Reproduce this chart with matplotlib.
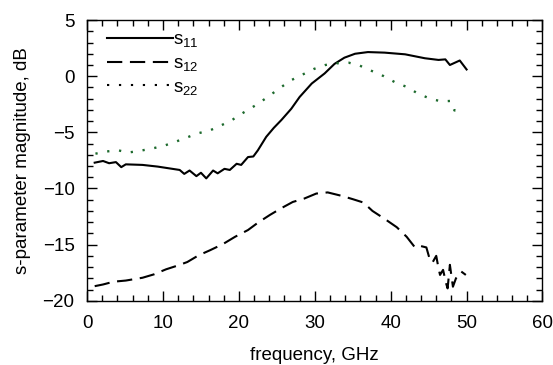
import matplotlib

matplotlib.use("Agg")
import matplotlib.pyplot as plt
from matplotlib.lines import Line2D
from matplotlib.ticker import MultipleLocator

# s11
s11_freq = [1.0, 2.1, 2.9, 3.8, 4.5, 5.1, 7.3, 9.3, 12.2, 12.8, 13.5, 14.4, 15.0,
            15.7, 16.6, 17.2, 18.1, 18.8, 19.7, 20.3, 21.2, 21.9, 22.5, 23.6, 24.6,
            25.6, 26.9, 28.0, 29.6, 31.3, 32.6, 33.9, 35.3, 37.0, 39.2, 41.9, 44.5,
            46.3, 47.2, 47.8, 49.1, 50.0]
s11_db = [-7.7, -7.55, -7.75, -7.65, -8.1, -7.85, -7.9, -8.05, -8.35, -8.7, -8.4,
          -8.9, -8.6, -9.1, -8.4, -8.65, -8.25, -8.35, -7.8, -7.9, -7.2, -7.15, -6.6,
          -5.4, -4.6, -3.9, -2.9, -1.85, -0.65, 0.25, 1.1, 1.65, 2.0, 2.15, 2.1, 1.95,
          1.6, 1.45, 1.5, 1.0, 1.4, 0.6]

# s12
s12_freq = [1.0, 2.1, 3.5, 5.1, 7.3, 8.8, 10.4, 12.0, 13.2, 14.7, 16.2, 17.9, 19.5,
            21.2, 22.5, 24.1, 25.6, 27.1, 28.6, 30.2, 31.7, 33.5, 35.0, 36.4, 37.6,
            39.3, 40.8, 42.1, 43.2, 43.8, 44.7, 45.1, 45.5, 46.0, 46.3, 46.5, 46.9,
            47.3, 47.5, 47.8, 48.2, 48.6, 49.3, 49.9]
s12_db = [-18.7, -18.55, -18.3, -18.2, -17.95, -17.65, -17.2, -16.85, -16.55, -15.95,
          -15.5, -14.95, -14.3, -13.7, -13.05, -12.35, -11.75, -11.2, -10.9, -10.45,
          -10.35, -10.65, -10.95, -11.25, -12.0, -12.75, -13.45, -14.3, -15.25, -15.1,
          -15.25, -16.2, -16.6, -16.0, -17.1, -17.7, -17.25, -18.45, -18.9, -16.8,
          -18.75, -18.0, -17.4, -17.7]

# s22
s22_freq = [1.1, 2.6, 4.1, 5.4, 6.9, 8.5, 10.1, 11.6, 13.0, 14.5, 16.1, 17.6, 19.1,
            20.7, 22.3, 23.8, 25.3, 26.9, 28.4, 29.9, 31.4, 32.9, 34.5, 35.9, 37.4,
            39.1, 40.6, 42.1, 43.6, 45.2, 46.7, 47.9, 48.4, 49.8]
s22_db = [-6.9, -6.7, -6.6, -6.8, -6.65, -6.45, -6.2, -5.85, -5.5, -5.1, -4.85, -4.4,
          -3.9, -3.2, -2.55, -1.85, -1.1, -0.35, 0.15, 0.65, 1.0, 1.15, 1.2, 0.95, 0.5,
          0.0, -0.55, -0.95, -1.55, -2.0, -2.25, -2.2, -3.05, -3.0]

labels = [r"$\mathregular{s_{11}}$", r"$\mathregular{s_{12}}$", r"$\mathregular{s_{22}}$"]

plt.rcParams["font.family"] = ["Liberation Sans", "DejaVu Sans"]
plt.rcParams["lines.scale_dashes"] = False
FS = 13.5

fig = plt.figure(figsize=(5.53, 3.65), dpi=100)
ax = fig.add_axes([0.1575, 0.176, 0.8235, 0.769])

solid_ls = "-"
dash_ls = (0, (11, 5.5))
dot_ls = (0, (1.6, 7.0))

ax.plot(s11_freq, s11_db, color="black", lw=1.5, ls=solid_ls)
ax.plot(s12_freq, s12_db, color="black", lw=1.5, ls=dash_ls)
ax.plot(s22_freq, s22_db, color="#1d6a2d", lw=1.7, ls=dot_ls)

ax.set_xlim(0, 60)
ax.set_ylim(-20, 5)
ax.xaxis.set_major_locator(MultipleLocator(10))
ax.xaxis.set_minor_locator(MultipleLocator(2))
ax.yaxis.set_major_locator(MultipleLocator(5))
ax.yaxis.set_minor_locator(MultipleLocator(1))
ax.tick_params(which="both", direction="in", top=True, right=True,
               labelsize=FS, width=1, colors="black")
ax.tick_params(axis="x", which="both", pad=10)
ax.tick_params(axis="y", which="both", pad=9)
ax.tick_params(which="major", length=7)
ax.tick_params(which="minor", length=4)
for sp in ax.spines.values():
    sp.set_linewidth(1)

ax.set_xlabel("frequency, GHz", fontsize=FS, labelpad=11)
ax.set_ylabel("s-parameter magnitude, dB", fontsize=FS, labelpad=8)

handles = [
    Line2D([], [], color="black", lw=1.5, ls=solid_ls),
    Line2D([], [], color="black", lw=1.5, ls=dash_ls),
    Line2D([], [], color="black", lw=1.5, ls=dot_ls),
]
ax.legend(handles, labels, loc="upper left", frameon=False, fontsize=FS,
          handlelength=3.5, handletextpad=0.0, labelspacing=0.3,
          borderaxespad=0.2, bbox_to_anchor=(0.02, 1.0))

fig.savefig("out.png", dpi=100)
